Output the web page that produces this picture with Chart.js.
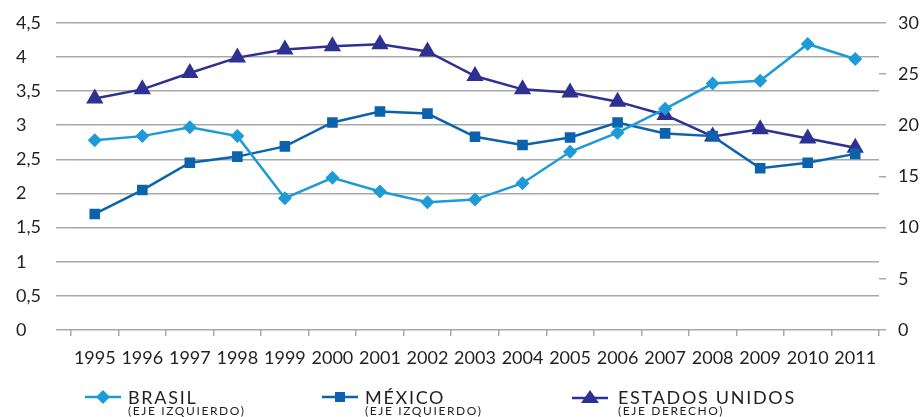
<!DOCTYPE html>
<html>
<head>
<meta charset="utf-8">
<script src="https://cdn.jsdelivr.net/npm/chart.js@4.4.1/dist/chart.umd.min.js"></script>
<style>
      body { margin: 0; background: #fff; }
      #wrap { position: relative; width: 921px; height: 417px; overflow: hidden; }
      .leg { position: absolute; font-family: Lato, sans-serif; color: #231f20; white-space: nowrap; }
      .leg-name { font-size: 18px; line-height: 20px; letter-spacing: 1.7px; top: 387px; }
      .leg-axis { font-size: 12px; line-height: 12px; letter-spacing: 1.6px; top: 405px; }
      .leg-mark { position: absolute; top: 389px; }
</style>
</head>
<body>
<div id="wrap">
      <canvas id="chart" width="921" height="417"></canvas>

      <svg class="leg-mark" style="left:85px" width="36" height="16">
            <line x1="0" y1="8" x2="36" y2="8" stroke="#1e9ad6" stroke-width="2.5"/>
            <polygon points="18,1 25,8 18,15 11,8" fill="#1e9ad6"/>
      </svg>
      <span class="leg leg-name" style="left:128px">BRASIL</span>
      <span class="leg leg-axis" style="left:128px">(EJE IZQUIERDO)</span>

      <svg class="leg-mark" style="left:322px" width="36" height="16">
            <line x1="0" y1="8" x2="36" y2="8" stroke="#0b62ad" stroke-width="2.5"/>
            <rect x="13" y="3" width="10" height="10" fill="#0b62ad"/>
      </svg>
      <span class="leg leg-name" style="left:365px">MÉXICO</span>
      <span class="leg leg-axis" style="left:365px">(EJE IZQUIERDO)</span>

      <svg class="leg-mark" style="left:572px" width="36" height="16">
            <line x1="0" y1="9" x2="36" y2="9" stroke="#2e3192" stroke-width="2.5"/>
            <polygon points="18,1 27,14 9,14" fill="#2e3192"/>
      </svg>
      <span class="leg leg-name" style="left:618px">ESTADOS UNIDOS</span>
      <span class="leg leg-axis" style="left:618px">(EJE DERECHO)</span>
</div>

<script>
// ------------------------- DATA -------------------------
const years = ['1995', '1996', '1997', '1998', '1999', '2000', '2001', '2002', '2003',
      '2004', '2005', '2006', '2007', '2008', '2009', '2010', '2011'];

// left axis
const brasil = [2.78, 2.84, 2.97, 2.84, 1.93, 2.23, 2.03, 1.87, 1.91, 2.15, 2.61, 2.89, 3.24, 3.61, 3.65, 4.19, 3.97];
const mexico = [1.70, 2.05, 2.45, 2.54, 2.69, 3.04, 3.20, 3.17, 2.83, 2.71, 2.82, 3.04, 2.88, 2.84, 2.37, 2.45, 2.58];

// right axis
const estadosUnidos = [22.6, 23.5, 25.1, 26.6, 27.4, 27.7, 27.9, 27.2, 24.8, 23.5, 23.2, 22.3, 21.0, 18.9, 19.6, 18.7, 17.8];

const leftAxisRange = [0, 4.5, 0.5];   // min, max, step
const rightAxisRange = [0, 30, 5];

// ------------------------- STYLE -------------------------
const TEXT = '#231f20';
const GRID = '#a8a8a8';
const tickFont = { family: 'Lato', size: 18 };

Chart.defaults.font.family = 'Lato';

function serie(label, data, color, style, radius, axis) {
      return {
            label: label,
            data: data,
            yAxisID: axis,
            borderColor: color,
            backgroundColor: color,
            pointBackgroundColor: color,
            pointBorderColor: color,
            borderWidth: 2.5,
            pointStyle: style,
            pointRadius: radius,
            pointBorderWidth: 0,
            tension: 0,
            fill: false,
      };
}

const ctx = document.getElementById('chart').getContext('2d');

new Chart(ctx, {
      type: 'line',
      data: {
            labels: years,
            datasets: [
                  serie('BRASIL', brasil, '#1e9ad6', 'rectRot', 7, 'y'),
                  serie('MÉXICO', mexico, '#0b62ad', 'rect', 7.5, 'y'),
                  serie('ESTADOS UNIDOS', estadosUnidos, '#2e3192', 'triangle', 10, 'y1'),
            ]
      },
      options: {
            responsive: false,
            animation: false,
            layout: { padding: { left: 16, top: 22, right: 0, bottom: 0 } },
            plugins: {
                  legend: { display: false },
                  tooltip: { enabled: false },
            },
            scales: {
                  x: {
                        offset: true,
                        grid: { offset: true, drawOnChartArea: false, drawTicks: true, tickLength: 6, color: GRID, lineWidth: 1.5 },
                        border: { display: false },
                        ticks: { font: tickFont, color: TEXT, padding: 11, maxRotation: 0, autoSkip: false },
                        afterFit: (s) => { s.height = 87; },
                  },
                  y: {
                        position: 'left',
                        min: leftAxisRange[0],
                        max: leftAxisRange[1],
                        ticks: {
                              stepSize: leftAxisRange[2],
                              font: tickFont,
                              color: TEXT,
                              crossAlign: 'far',
                              callback: (v) => String(v).replace('.', ','),
                        },
                        grid: { color: GRID, lineWidth: 1.5, tickLength: 15 },
                        border: { display: false },
                        afterFit: (s) => { s.width = 55; },
                  },
                  y1: {
                        position: 'right',
                        min: rightAxisRange[0],
                        max: rightAxisRange[1],
                        ticks: { stepSize: rightAxisRange[2], font: tickFont, color: TEXT, padding: 12 },
                        grid: { drawOnChartArea: false, color: GRID, lineWidth: 1.5, tickLength: 7 },
                        border: { display: false },
                        afterFit: (s) => { s.width = 42; },
                  },
            }
      }
});
</script>
</body>
</html>
